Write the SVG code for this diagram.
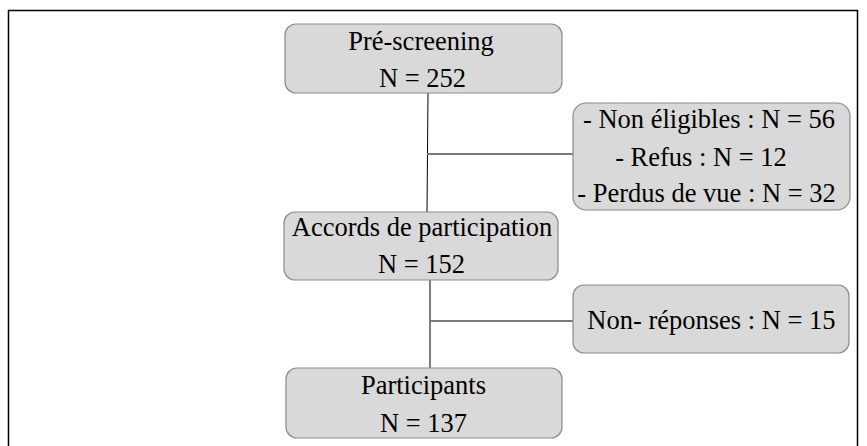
<svg xmlns="http://www.w3.org/2000/svg" width="867" height="446" viewBox="0 0 867 446">
<style>
.box{fill:#d9d9d9;stroke:#8c8c8c;stroke-width:1.2}
.t{font-family:"Liberation Serif","Times New Roman",serif;font-size:26.5px;fill:#000;text-anchor:middle}
.v{stroke:#000;stroke-width:1;fill:none}
.h{stroke:#7a7a7a;stroke-width:2;fill:none}
.frame{stroke:#000;stroke-width:1.5;fill:none}
</style>
<rect width="867" height="446" fill="#fff"/>
<path class="frame" d="M8.5 450 V10.5 H857.5 V450"/>
<g id="connectors">
<line class="v" x1="428" y1="93" x2="427" y2="212"/>
<line class="h" x1="427" y1="154" x2="574" y2="154"/>
<line class="v" x1="430" y1="280" x2="430" y2="368"/>
<line class="h" x1="430" y1="321" x2="574" y2="321"/>
</g>
<g id="prescreening">
<rect class="box" x="285" y="24" width="277" height="69" rx="11"/>
<text class="t" x="421" y="50">Pré-screening</text>
<text class="t" x="422.5" y="87">N = 252</text>
</g>
<g id="exclusions">
<rect class="box" x="573" y="103" width="277" height="107" rx="13"/>
<text class="t" x="709" y="128">- Non éligibles : N = 56</text>
<text class="t" x="701" y="166">- Refus : N = 12</text>
<text class="t" x="706.5" y="202">- Perdus de vue : N = 32</text>
</g>
<g id="accords">
<rect class="box" x="284" y="212" width="274" height="68" rx="11"/>
<text class="t" x="422" y="236">Accords de participation</text>
<text class="t" x="421.5" y="273">N = 152</text>
</g>
<g id="nonreponses">
<rect class="box" x="573" y="285" width="276" height="68" rx="11"/>
<text class="t" x="711.5" y="329">Non- réponses : N = 15</text>
</g>
<g id="participants">
<rect class="box" x="286" y="368" width="276" height="70" rx="11"/>
<text class="t" x="423.5" y="394">Participants</text>
<text class="t" x="423.5" y="432">N = 137</text>
</g>
</svg>
